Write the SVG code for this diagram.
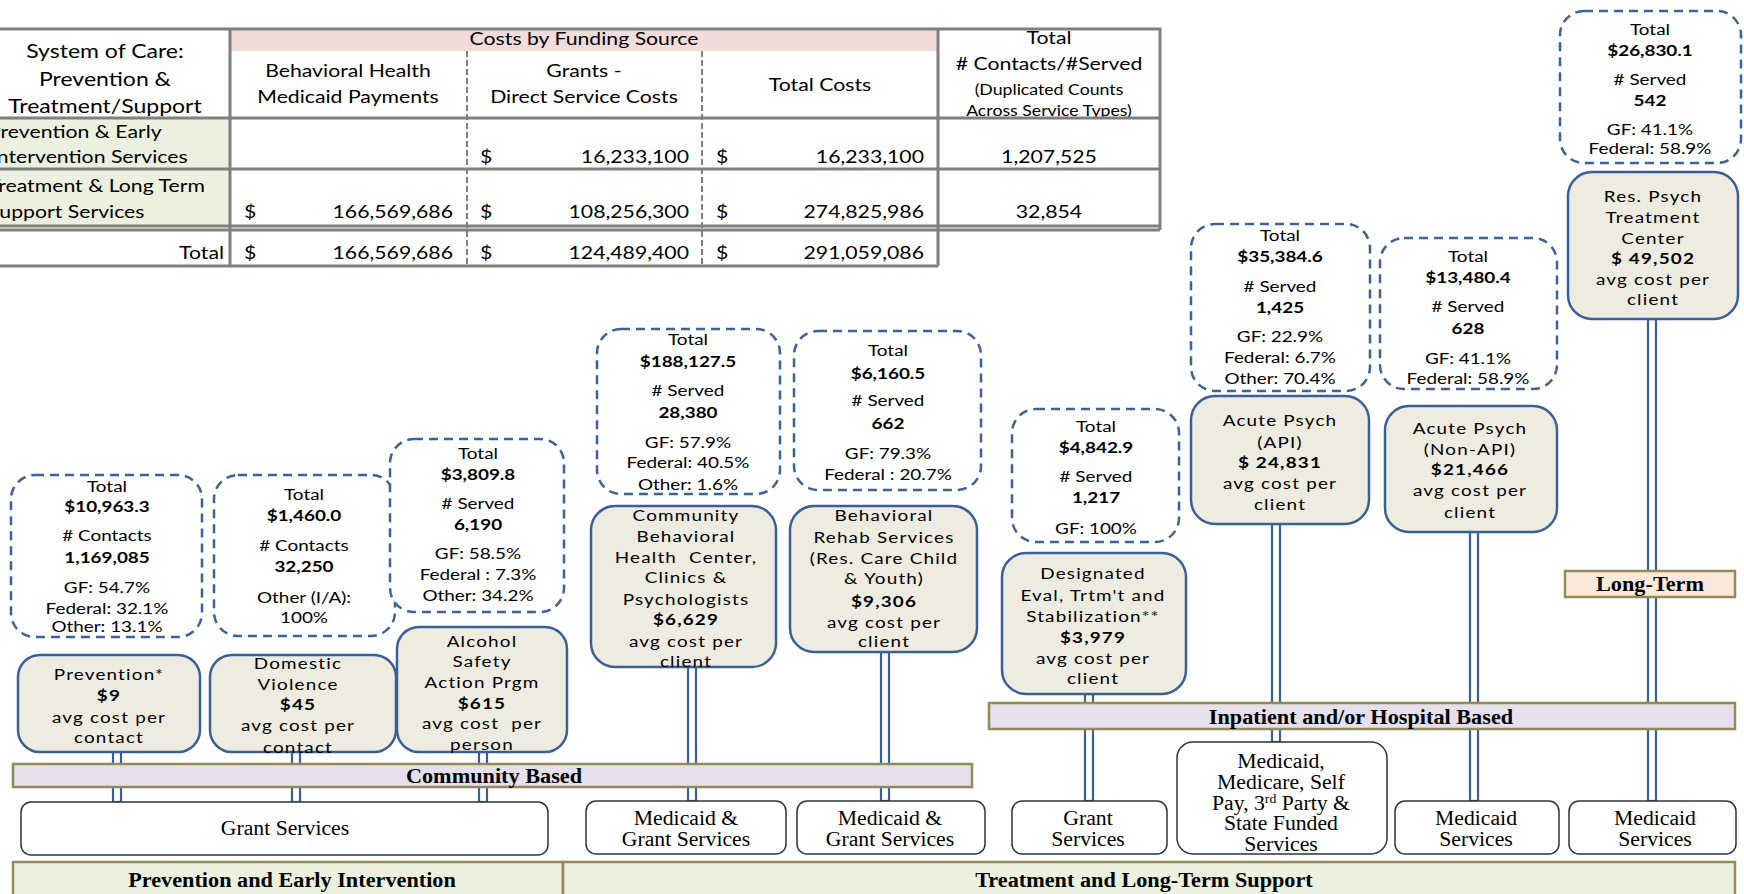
<svg xmlns="http://www.w3.org/2000/svg" width="1744" height="894" viewBox="0 0 1744 894">
<style>
text{font-family:Lato,"Liberation Sans",sans-serif;fill:#000;}
.c{text-anchor:middle;transform-box:fill-box;transform-origin:center;transform:scaleX(1.18);}
.l{text-anchor:start;transform-box:fill-box;transform-origin:left center;transform:scaleX(1.18);}
.r{text-anchor:end;transform-box:fill-box;transform-origin:right center;transform:scaleX(1.18);}
.t{font-size:18px;}
.th{font-size:19.5px;}
.ts{font-size:15px;}
.d{font-size:16px;}
.n{font-size:16px;letter-spacing:1px;}
.b{font-weight:bold;}
.sf{font-family:"Liberation Serif","Times New Roman",serif;text-anchor:middle;transform-box:fill-box;transform-origin:center;transform:scaleX(1.06);}
.bar{fill:#e5e0ec;stroke:#948a54;stroke-width:2.5;}
.dash{fill:#fff;stroke:#3b6399;stroke-width:2.5;stroke-dasharray:9 6;}
.node{fill:#eeece1;stroke:#3a5f96;stroke-width:2.5;}
.fund{fill:#fff;stroke:#333;stroke-width:1.5;}
.conn{fill:#fff;stroke:#3a5f96;stroke-width:2.2;}
.tl{stroke:#7f7f7f;stroke-width:3;fill:none;}
.td{stroke:#7f7f7f;stroke-width:2;stroke-dasharray:6 3;fill:none;}
</style>

<g id="table">
  <rect x="0" y="0" width="1160" height="266" fill="#fff"/>
  <rect x="230" y="29" width="708" height="22" fill="#f2dcdb"/>
  <rect x="0" y="118" width="230" height="108" fill="#ebf1de"/>
  <text class="t c" x="584" y="45">Costs by Funding Source</text>
  <text class="th c" x="105" y="58">System of Care:</text>
  <text class="th c" x="105" y="86">Prevention &amp;</text>
  <text class="th c" x="105" y="113">Treatment/Support</text>
  <text class="t c" x="348" y="77">Behavioral Health</text>
  <text class="t c" x="348" y="103">Medicaid Payments</text>
  <text class="t c" x="584" y="77">Grants -</text>
  <text class="t c" x="584" y="103">Direct Service Costs</text>
  <text class="t c" x="820" y="91">Total Costs</text>
  <text class="t c" x="1049" y="44">Total</text>
  <text class="t c" x="1049" y="70"># Contacts/#Served</text>
  <text class="ts c" x="1049" y="95">(Duplicated Counts</text>
  <text class="ts c" x="1049" y="116.5">Across Service Types)</text>
  <rect x="938" y="118" width="222" height="51" fill="#fff"/>
  <text class="t l" x="-12" y="138">Prevention &amp; Early</text>
  <text class="t l" x="-9" y="163">Intervention Services</text>
  <text class="t l" x="-12" y="192">Treatment &amp; Long Term</text>
  <text class="t l" x="-12" y="218">Support Services</text>
  <text class="t r" x="224" y="259">Total</text>
  <text class="t l" x="480" y="163">$</text>
  <text class="t r" x="689" y="163">16,233,100</text>
  <text class="t l" x="716" y="163">$</text>
  <text class="t r" x="924" y="163">16,233,100</text>
  <text class="t c" x="1049" y="163">1,207,525</text>
  <text class="t l" x="244" y="218">$</text>
  <text class="t r" x="453" y="218">166,569,686</text>
  <text class="t l" x="480" y="218">$</text>
  <text class="t r" x="689" y="218">108,256,300</text>
  <text class="t l" x="716" y="218">$</text>
  <text class="t r" x="924" y="218">274,825,986</text>
  <text class="t c" x="1049" y="218">32,854</text>
  <text class="t l" x="244" y="259">$</text>
  <text class="t r" x="453" y="259">166,569,686</text>
  <text class="t l" x="480" y="259">$</text>
  <text class="t r" x="689" y="259">124,489,400</text>
  <text class="t l" x="716" y="259">$</text>
  <text class="t r" x="924" y="259">291,059,086</text>
  <line class="td" x1="467" y1="51" x2="467" y2="266"/>
  <line class="td" x1="702" y1="51" x2="702" y2="266"/>
  <path class="tl" d="M0 29H1160V230M230 29V266M938 29V266M0 118H1160M0 169H1160M0 226H1160M0 230H1160M0 266H938"/>
</g>

<g id="connectors">
  <rect class="conn" x="113" y="752" width="8" height="50"/>
  <rect class="conn" x="292" y="752" width="8" height="50"/>
  <rect class="conn" x="479" y="752" width="8" height="50"/>
  <rect class="conn" x="688" y="667" width="8" height="134"/>
  <rect class="conn" x="881" y="652" width="8" height="149"/>
  <rect class="conn" x="1085" y="694" width="8" height="107"/>
  <rect class="conn" x="1272" y="524" width="8" height="218"/>
  <rect class="conn" x="1470" y="532" width="8" height="269"/>
  <rect class="conn" x="1648" y="319" width="8" height="482"/>
</g>

<g id="bar-community">
  <rect class="bar" x="13" y="764" width="959" height="23"/>
  <text class="sf b" x="494" y="783" font-size="21">Community Based</text>
</g>
<g id="bar-inpatient">
  <rect class="bar" x="989" y="703" width="746" height="26"/>
  <text class="sf b" x="1361" y="724" font-size="21">Inpatient and/or Hospital Based</text>
</g>
<g id="bar-longterm">
  <rect x="1565" y="571" width="170" height="26" fill="#fde9d9" stroke="#948a54" stroke-width="2.5"/>
  <text class="sf b" x="1650" y="591" font-size="21">Long-Term</text>
</g>
<g id="bar-prevention">
  <rect x="13" y="862" width="550" height="40" fill="#ebf1de" stroke="#948a54" stroke-width="2.5"/>
  <text class="sf b" x="292" y="887" font-size="21">Prevention and Early Intervention</text>
</g>
<g id="bar-treatment">
  <rect x="563" y="862" width="1172" height="40" fill="#ebf1de" stroke="#948a54" stroke-width="2.5"/>
  <text class="sf b" x="1144" y="887" font-size="21">Treatment and Long-Term Support</text>
</g>

<!-- info boxes -->
<g id="info-prevention">
  <rect class="dash" x="11" y="475" width="191" height="162" rx="24"/>
  <text class="d c" x="107" y="492">Total</text>
  <text class="d c b" x="107" y="512">$10,963.3</text>
  <text class="d c" x="107" y="541"># Contacts</text>
  <text class="d c b" x="107" y="563">1,169,085</text>
  <text class="d c" x="107" y="593">GF: 54.7%</text>
  <text class="d c" x="107" y="614">Federal: 32.1%</text>
  <text class="d c" x="107" y="632">Other: 13.1%</text>
</g>
<g id="info-dv">
  <rect class="dash" x="214" y="475" width="181" height="161" rx="24"/>
  <text class="d c" x="304" y="500">Total</text>
  <text class="d c b" x="304" y="521">$1,460.0</text>
  <text class="d c" x="304" y="551"># Contacts</text>
  <text class="d c b" x="304" y="572">32,250</text>
  <text class="d c" x="304" y="603">Other (I/A):</text>
  <text class="d c" x="304" y="623">100%</text>
</g>
<g id="info-asap">
  <rect class="dash" x="390" y="439" width="174" height="173" rx="24"/>
  <text class="d c" x="478" y="459">Total</text>
  <text class="d c b" x="478" y="480">$3,809.8</text>
  <text class="d c" x="478" y="509"># Served</text>
  <text class="d c b" x="478" y="530">6,190</text>
  <text class="d c" x="478" y="559">GF: 58.5%</text>
  <text class="d c" x="478" y="580">Federal : 7.3%</text>
  <text class="d c" x="478" y="601">Other: 34.2%</text>
</g>
<g id="info-cbhc">
  <rect class="dash" x="597" y="329" width="183" height="165" rx="24"/>
  <text class="d c" x="688" y="345">Total</text>
  <text class="d c b" x="688" y="367">$188,127.5</text>
  <text class="d c" x="688" y="396"># Served</text>
  <text class="d c b" x="688" y="418">28,380</text>
  <text class="d c" x="688" y="448">GF: 57.9%</text>
  <text class="d c" x="688" y="468">Federal: 40.5%</text>
  <text class="d c" x="688" y="490">Other: 1.6%</text>
</g>
<g id="info-brs">
  <rect class="dash" x="794" y="331" width="187" height="159" rx="24"/>
  <text class="d c" x="888" y="356">Total</text>
  <text class="d c b" x="888" y="379">$6,160.5</text>
  <text class="d c" x="888" y="406"># Served</text>
  <text class="d c b" x="888" y="429">662</text>
  <text class="d c" x="888" y="459">GF: 79.3%</text>
  <text class="d c" x="888" y="480">Federal : 20.7%</text>
</g>
<g id="info-dets">
  <rect class="dash" x="1012" y="409" width="167" height="133" rx="24"/>
  <text class="d c" x="1096" y="432">Total</text>
  <text class="d c b" x="1096" y="453">$4,842.9</text>
  <text class="d c" x="1096" y="482"># Served</text>
  <text class="d c b" x="1096" y="503">1,217</text>
  <text class="d c" x="1096" y="534">GF: 100%</text>
</g>
<g id="info-api">
  <rect class="dash" x="1191" y="224" width="179" height="167" rx="24"/>
  <text class="d c" x="1280" y="241">Total</text>
  <text class="d c b" x="1280" y="262">$35,384.6</text>
  <text class="d c" x="1280" y="292"># Served</text>
  <text class="d c b" x="1280" y="313">1,425</text>
  <text class="d c" x="1280" y="342">GF: 22.9%</text>
  <text class="d c" x="1280" y="363">Federal: 6.7%</text>
  <text class="d c" x="1280" y="384">Other: 70.4%</text>
</g>
<g id="info-nonapi">
  <rect class="dash" x="1380" y="238" width="177" height="151" rx="24"/>
  <text class="d c" x="1468" y="262">Total</text>
  <text class="d c b" x="1468" y="283">$13,480.4</text>
  <text class="d c" x="1468" y="312"># Served</text>
  <text class="d c b" x="1468" y="334">628</text>
  <text class="d c" x="1468" y="364">GF: 41.1%</text>
  <text class="d c" x="1468" y="384">Federal: 58.9%</text>
</g>
<g id="info-rptc">
  <rect class="dash" x="1560" y="11" width="181" height="152" rx="24"/>
  <text class="d c" x="1650" y="35">Total</text>
  <text class="d c b" x="1650" y="56">$26,830.1</text>
  <text class="d c" x="1650" y="85"># Served</text>
  <text class="d c b" x="1650" y="106">542</text>
  <text class="d c" x="1650" y="135">GF: 41.1%</text>
  <text class="d c" x="1650" y="154">Federal: 58.9%</text>
</g>

<!-- service nodes -->
<g id="node-prevention">
  <rect class="node" x="18" y="655" width="182" height="97" rx="22"/>
  <text class="n c" x="109" y="680">Prevention*</text>
  <text class="n c b" x="109" y="701">$9</text>
  <text class="n c" x="109" y="723">avg cost per</text>
  <text class="n c" x="109" y="743">contact</text>
</g>
<g id="node-dv">
  <rect class="node" x="210" y="655" width="186" height="97" rx="22"/>
  <text class="n c" x="298" y="669">Domestic</text>
  <text class="n c" x="298" y="690">Violence</text>
  <text class="n c b" x="298" y="710">$45</text>
  <text class="n c" x="298" y="731">avg cost per</text>
  <text class="n c" x="298" y="753">contact</text>
</g>
<g id="node-asap">
  <rect class="node" x="397" y="627" width="170" height="125" rx="22"/>
  <text class="n c" x="482" y="647">Alcohol</text>
  <text class="n c" x="482" y="667">Safety</text>
  <text class="n c" x="482" y="688">Action Prgm</text>
  <text class="n c b" x="482" y="709">$615</text>
  <text class="n c" x="482" y="729">avg cost&#160; per</text>
  <text class="n c" x="482" y="750">person</text>
</g>
<g id="node-cbhc">
  <rect class="node" x="591" y="506" width="185" height="161" rx="24"/>
  <text class="n c" x="686" y="521">Community</text>
  <text class="n c" x="686" y="542">Behavioral</text>
  <text class="n c" x="686" y="563">Health&#160; Center,</text>
  <text class="n c" x="686" y="583">Clinics &amp;</text>
  <text class="n c" x="686" y="605">Psychologists</text>
  <text class="n c b" x="686" y="625">$6,629</text>
  <text class="n c" x="686" y="647">avg cost per</text>
  <text class="n c" x="686" y="667">client</text>
</g>
<g id="node-brs">
  <rect class="node" x="790" y="506" width="187" height="146" rx="24"/>
  <text class="n c" x="884" y="521">Behavioral</text>
  <text class="n c" x="884" y="543">Rehab Services</text>
  <text class="n c" x="884" y="564">(Res. Care Child</text>
  <text class="n c" x="884" y="584">&amp; Youth)</text>
  <text class="n c b" x="884" y="607">$9,306</text>
  <text class="n c" x="884" y="628">avg cost per</text>
  <text class="n c" x="884" y="647">client</text>
</g>
<g id="node-dets">
  <rect class="node" x="1002" y="553" width="184" height="141" rx="24"/>
  <text class="n c" x="1093" y="579">Designated</text>
  <text class="n c" x="1093" y="601">Eval, Trtm't and</text>
  <text class="n c" x="1093" y="622">Stabilization**</text>
  <text class="n c b" x="1093" y="643">$3,979</text>
  <text class="n c" x="1093" y="664">avg cost per</text>
  <text class="n c" x="1093" y="684">client</text>
</g>
<g id="node-api">
  <rect class="node" x="1191" y="396" width="178" height="128" rx="24"/>
  <text class="n c" x="1280" y="426">Acute Psych</text>
  <text class="n c" x="1280" y="448">(API)</text>
  <text class="n c b" x="1280" y="468">$ 24,831</text>
  <text class="n c" x="1280" y="489">avg cost per</text>
  <text class="n c" x="1280" y="510">client</text>
</g>
<g id="node-nonapi">
  <rect class="node" x="1385" y="406" width="172" height="126" rx="24"/>
  <text class="n c" x="1470" y="434">Acute Psych</text>
  <text class="n c" x="1470" y="455">(Non-API)</text>
  <text class="n c b" x="1470" y="475">$21,466</text>
  <text class="n c" x="1470" y="496">avg cost per</text>
  <text class="n c" x="1470" y="518">client</text>
</g>
<g id="node-rptc">
  <rect class="node" x="1568" y="172" width="170" height="147" rx="24"/>
  <text class="n c" x="1653" y="202">Res. Psych</text>
  <text class="n c" x="1653" y="223">Treatment</text>
  <text class="n c" x="1653" y="244">Center</text>
  <text class="n c b" x="1653" y="264">$ 49,502</text>
  <text class="n c" x="1653" y="285">avg cost per</text>
  <text class="n c" x="1653" y="305">client</text>
</g>

<!-- funding boxes -->
<g id="fund-grant-1">
  <rect class="fund" x="21" y="802" width="527" height="53" rx="10"/>
  <text class="sf" x="285" y="835" font-size="20.5">Grant Services</text>
</g>
<g id="fund-mg-1">
  <rect class="fund" x="586" y="801" width="200" height="53" rx="10"/>
  <text class="sf" x="686" y="825" font-size="20.5">Medicaid &amp;</text>
  <text class="sf" x="686" y="846" font-size="20.5">Grant Services</text>
</g>
<g id="fund-mg-2">
  <rect class="fund" x="797" y="801" width="188" height="53" rx="10"/>
  <text class="sf" x="890" y="825" font-size="20.5">Medicaid &amp;</text>
  <text class="sf" x="890" y="846" font-size="20.5">Grant Services</text>
</g>
<g id="fund-grant-2">
  <rect class="fund" x="1012" y="801" width="155" height="53" rx="10"/>
  <text class="sf" x="1088" y="825" font-size="20.5">Grant</text>
  <text class="sf" x="1088" y="846" font-size="20.5">Services</text>
</g>
<g id="fund-mixed">
  <rect class="fund" x="1177" y="742" width="210" height="112" rx="16"/>
  <text class="sf" x="1281" y="768" font-size="20.5">Medicaid,</text>
  <text class="sf" x="1281" y="789" font-size="20.5">Medicare, Self</text>
  <text class="sf" x="1281" y="810" font-size="20.5">Pay, 3<tspan font-size="13" dy="-7">rd</tspan><tspan dy="7"> Party &amp;</tspan></text>
  <text class="sf" x="1281" y="830" font-size="20.5">State Funded</text>
  <text class="sf" x="1281" y="851" font-size="20.5">Services</text>
</g>
<g id="fund-medicaid-1">
  <rect class="fund" x="1395" y="801" width="164" height="53" rx="10"/>
  <text class="sf" x="1476" y="825" font-size="20.5">Medicaid</text>
  <text class="sf" x="1476" y="846" font-size="20.5">Services</text>
</g>
<g id="fund-medicaid-2">
  <rect class="fund" x="1569" y="801" width="167" height="53" rx="10"/>
  <text class="sf" x="1655" y="825" font-size="20.5">Medicaid</text>
  <text class="sf" x="1655" y="846" font-size="20.5">Services</text>
</g>
</svg>
